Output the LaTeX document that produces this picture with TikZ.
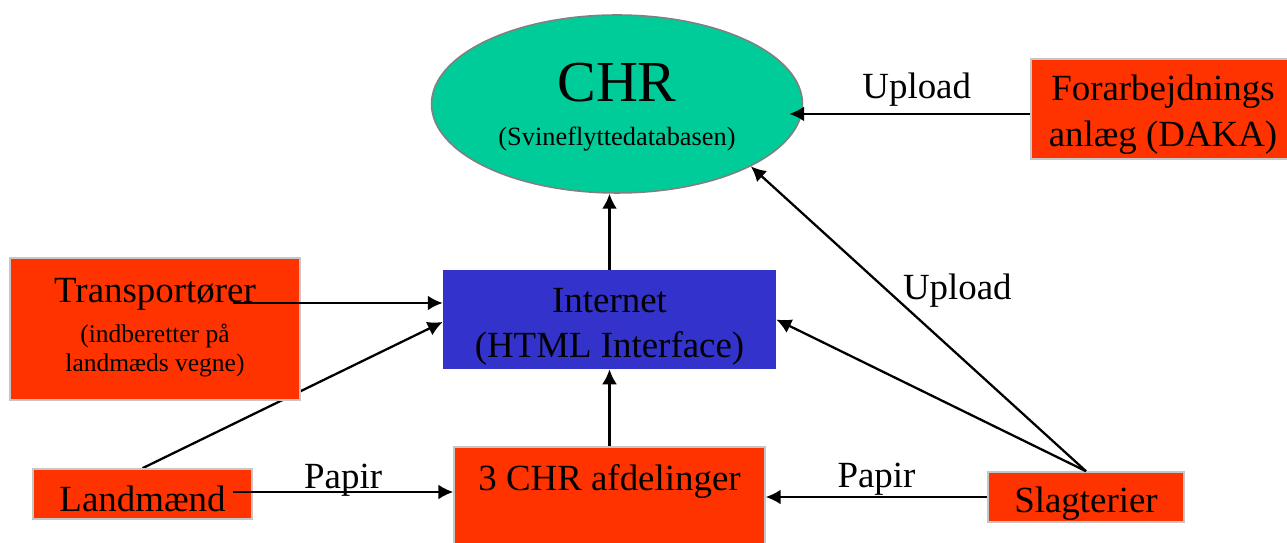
\documentclass[tikz,border=0pt]{standalone}
\usepackage{fontspec}
\setmainfont{Liberation Serif}
\usetikzlibrary{positioning,arrows.meta,backgrounds,shapes.geometric}

\definecolor{chrgreen}{HTML}{00CC99}
\definecolor{boxred}{HTML}{FF3300}
\definecolor{netblue}{HTML}{3333CC}

\tikzset{
	redbox/.style={rectangle,fill=boxred,draw=gray!45,line width=0.9pt,
		inner sep=0pt,align=center,font=\fontsize{21}{26}\selectfont},
	lbl/.style={inner sep=0pt,font=\fontsize{21}{26}\selectfont},
	conn/.style={->,line width=1.3pt}
}

\begin{document}
\begin{tikzpicture}[x=0.02cm,y=-0.02cm,>={Latex[length=8.5pt,width=8.5pt]}]
	\useasboundingbox (0,0) rectangle (1287,543);

	\node[ellipse,fill=chrgreen,draw=gray,line width=0.9pt,inner sep=0pt,
		  minimum width=7.42cm,minimum height=3.56cm,align=center,
		  font=\fontsize{15}{25}\selectfont,text height=47.6pt,text depth=0pt]
		  (chr) at (617,104) {{\fontsize{33}{25}\selectfont CHR}\\(Svineflyttedatabasen)};
	\node[rectangle,fill=netblue,inner sep=0pt,align=center,
		  minimum width=6.66cm,minimum height=1.98cm,
		  font=\fontsize{21}{26}\selectfont,text height=43.7pt,text depth=0pt]
		  (internet) at (609.5,319.5) {Internet\\(HTML Interface)};
	\node[redbox,minimum width=5.8cm,minimum height=2.84cm,
		  font=\fontsize{21}{17}\selectfont,text height=48.8pt,text depth=0pt]
		  (trans) at (155,329) {Transportører\\[5.7pt]{\fontsize{14.5}{17}\selectfont(indberetter på}\\{\fontsize{14.5}{17}\selectfont landmæds vegne)}};
	\node[redbox,minimum width=4.38cm,minimum height=1cm,
		  text height=20.4pt,text depth=0pt]
		  (land) at (142.5,494) {Landmænd};
	\node[redbox,minimum width=6.22cm,minimum height=2.32cm,
		  text height=10pt,text depth=27pt]
		  (afd) at (609.5,505) {3 CHR afdelinger};
	\node[redbox,minimum width=3.92cm,minimum height=1cm,
		  text height=18.1pt,text depth=0pt]
		  (slag) at (1086,497) {Slagterier};
	\node[redbox,minimum width=5.28cm,minimum height=2cm,
		  font=\fontsize{21}{26.6}\selectfont,text height=43.1pt,text depth=0pt]
		  (fora) at (1163,109) {Forarbejdnings\\anlæg (DAKA)};

	\coordinate (trans out) at (233,303);
	\coordinate (land out) at (233,492);
	\coordinate (fora out) at ([yshift=-2.8pt]fora.west);

	% this one runs behind the Transportører box
	\begin{scope}[on background layer]
		\draw[conn] (land.north) -- ([yshift=-1.4pt]internet.west);
	\end{scope}

	\draw[conn] (internet.north) -- (internet.north |- chr.south);
	\draw[conn] (afd.north) -- (internet.south);
	\draw[conn] (trans out) -- (trans out -| internet.west);
	\draw[conn] (land out) -- node[lbl,above=-3.4pt]{Papir} (land out -| afd.west);
	\draw[conn] (slag.west) -- node[lbl,above=0.5pt]{Papir} (slag.west -| afd.east);
	\draw[conn] (slag.north) -- (internet.east);
	\draw[conn] (slag.north) -- node[lbl,pos=0.594,right=8.5pt]{Upload} (chr.-25);
	\draw[conn,shorten >=-8pt] (fora out) -- node[lbl,above=3.4pt]{Upload} (fora out -| chr.east);
\end{tikzpicture}
\end{document}
